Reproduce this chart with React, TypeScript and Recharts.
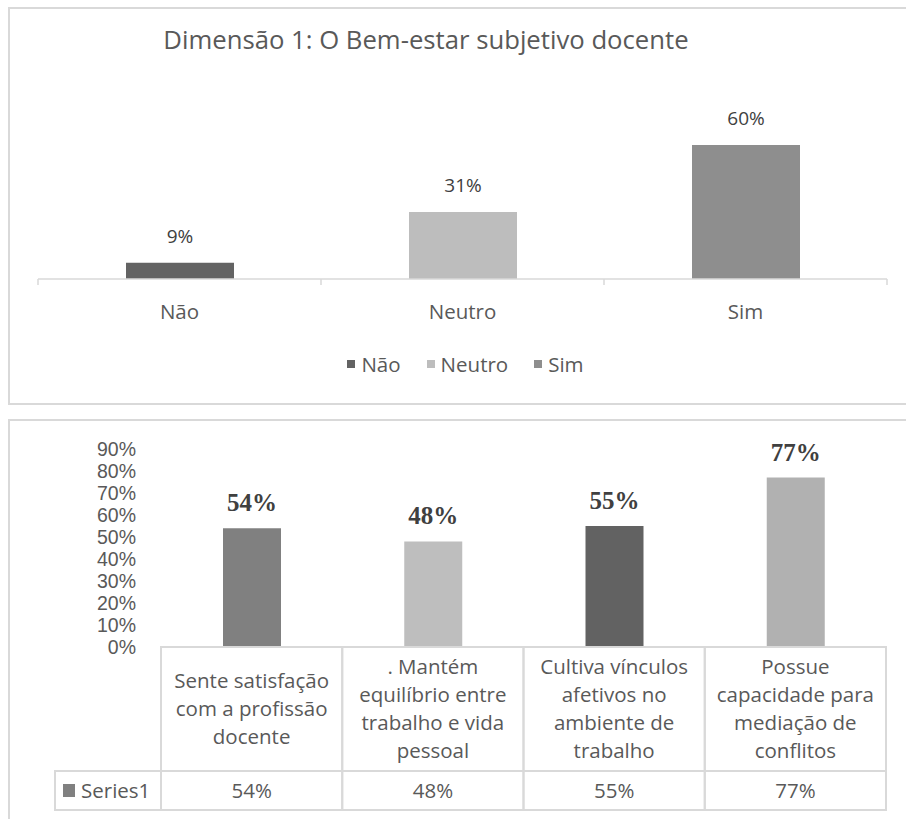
import React from 'react';
import { BarChart, Bar, XAxis, YAxis, Cell, LabelList, Legend } from 'recharts';

// top chart: Dimensão 1
const topTitle = 'Dimensão 1: O Bem-estar subjetivo docente';
const topCategories = ['Não', 'Neutro', 'Sim'];
const topValues = [9, 31, 60];
const topColors = ['#636363', '#bdbdbd', '#8e8e8e'];

// bottom chart: indicators with data table
const bottomCategories = [
  'Sente satisfação\ncom a profissão\ndocente',
  '. Mantém\nequilíbrio entre\ntrabalho e vida\npessoal',
  'Cultiva vínculos\nafetivos no\nambiente de\ntrabalho',
  'Possue\ncapacidade para\nmediação de\nconflitos',
];
const bottomValues = [54, 48, 55, 77];
const bottomColors = ['#808080', '#bebebe', '#626262', '#b1b1b1'];
const seriesName = 'Series1';
const yTicks = [0, 10, 20, 30, 40, 50, 60, 70, 80, 90];

const FONT = "'Open Sans', Lato, sans-serif";
const TEXT = '#595959';
const GRID = '#d9d9d9';
const FS = 20.5;

const topData = topCategories.map((name, i) => ({ name, value: topValues[i] }));
const bottomData = bottomCategories.map((name, i) => ({ name, value: bottomValues[i] }));

const TopTick = (props: any) => {
  const { x, y, payload, index } = props;
  const half = payload.offset || 141.5;
  return (
    <g>
      <line x1={x - half} x2={x - half} y1={y} y2={y + 6} stroke={GRID} strokeWidth={1.5} />
      {index === topCategories.length - 1 && (
        <line x1={x + half} x2={x + half} y1={y} y2={y + 6} stroke={GRID} strokeWidth={1.5} />
      )}
      <text x={x} y={y + 40} textAnchor="middle" fill={TEXT} fontSize={FS} fontFamily={FONT}>
        {payload.value}
      </text>
    </g>
  );
};

const TableTick = (props: any) => {
  const { x, y, payload, index } = props;
  const half = payload.offset || 90.6;
  const rowH = 124;
  const serH = 39;
  const lh = 28;
  const lines = String(payload.value).split('\n');
  const start = y + rowH / 2 - ((lines.length - 1) * lh) / 2;
  return (
    <g>
      <rect x={x - half} y={y} width={half * 2} height={rowH} fill="none" stroke={GRID} strokeWidth={2} />
      <rect x={x - half} y={y + rowH} width={half * 2} height={serH} fill="none" stroke={GRID} strokeWidth={2} />
      {lines.map((l, i) => (
        <text key={i} x={x} y={start + i * lh} dy="0.35em" textAnchor="middle" fill={TEXT} fontSize={FS} fontFamily={FONT}>
          {l}
        </text>
      ))}
      <text x={x} y={y + rowH + serH / 2} dy="0.35em" textAnchor="middle" fill={TEXT} fontSize={FS} fontFamily={FONT}>
        {bottomValues[index]}%
      </text>
      {index === 0 && (
        <g>
          <rect x={x - half - 106} y={y + rowH} width={106} height={serH} fill="none" stroke={GRID} strokeWidth={2} />
          <rect x={x - half - 98} y={y + rowH + 13} width={12} height={13} fill="#808080" />
          <text x={x - half - 80} y={y + rowH + serH / 2} dy="0.35em" fill={TEXT} fontSize={FS} fontFamily={FONT}>
            {seriesName}
          </text>
        </g>
      )}
    </g>
  );
};

const TopLegend = () => (
  <div style={{ display: 'flex', justifyContent: 'center', fontFamily: FONT, fontSize: FS, color: TEXT, paddingLeft: 25 }}>
    {topCategories.map((c, i) => (
      <span key={c} style={{ display: 'flex', alignItems: 'center', marginLeft: i === 0 ? 0 : 26 }}>
        <span style={{ width: 8, height: 8, background: topColors[i], marginRight: 6, display: 'inline-block' }} />
        {c}
      </span>
    ))}
  </div>
);

export default function App() {
  return (
    <div style={{ position: 'absolute', left: 0, top: 0, width: 906, height: 819, overflow: 'hidden', background: '#fff' }}>
      <div style={{ position: 'absolute', left: 8, top: 7, width: 940, height: 394, border: `2px solid ${GRID}` }} />
      <div style={{ position: 'absolute', left: 8, top: 419, width: 940, height: 440, border: `2px solid ${GRID}` }} />

      <div
        style={{
          position: 'absolute',
          left: 0,
          top: 23,
          width: 852,
          textAlign: 'center',
          fontFamily: FONT,
          fontSize: 25.7,
          lineHeight: '34px',
          color: TEXT,
        }}
      >
        {topTitle}
      </div>

      <div style={{ position: 'absolute', left: 0, top: 0 }}>
        <BarChart width={906} height={400} data={topData} margin={{ top: 122, right: 19, bottom: 61, left: 38 }}>
          <XAxis
            dataKey="name"
            axisLine={{ stroke: GRID, strokeWidth: 1.5 }}
            tickLine={false}
            tickSize={0}
            tickMargin={0}
            height={60}
            interval={0}
            tick={<TopTick />}
          />
          <YAxis hide domain={[2, 70]} />
          <Legend verticalAlign="middle" align="center" wrapperStyle={{ top: 350, left: 0, width: 906 }} content={<TopLegend />} />
          <Bar dataKey="value" barSize={108} isAnimationActive={false}>
            {topData.map((d, i) => (
              <Cell key={d.name} fill={topColors[i]} />
            ))}
            <LabelList
              dataKey="value"
              position="top"
              offset={20}
              formatter={(v: any) => `${v}%`}
              fill="#404040"
              fontSize={19}
              fontFamily={FONT}
            />
          </Bar>
        </BarChart>
      </div>

      <div style={{ position: 'absolute', left: 0, top: 400 }}>
        <BarChart width={906} height={419} data={bottomData} margin={{ top: 49, right: 20, bottom: 4, left: 9 }}>
          <XAxis
            dataKey="name"
            axisLine={false}
            tickLine={false}
            tickSize={0}
            tickMargin={0}
            height={168}
            interval={0}
            tick={<TableTick />}
          />
          <YAxis
            width={152}
            domain={[0, 90]}
            ticks={yTicks}
            interval={0}
            axisLine={false}
            tickLine={false}
            tickSize={0}
            tickMargin={25}
            tickFormatter={(v: any) => `${v}%`}
            tick={{ fill: TEXT, fontSize: 19.5, fontFamily: "'Liberation Sans', Arial, sans-serif" }}
          />
          <Bar dataKey="value" barSize={58} isAnimationActive={false}>
            {bottomData.map((d, i) => (
              <Cell key={d.name} fill={bottomColors[i]} />
            ))}
            <LabelList
              dataKey="value"
              position="top"
              offset={17}
              formatter={(v: any) => `${v}%`}
              fill="#404040"
              fontSize={25}
              fontWeight="bold"
              fontFamily="'Liberation Serif', 'Times New Roman', serif"
            />
          </Bar>
        </BarChart>
      </div>
    </div>
  );
}
